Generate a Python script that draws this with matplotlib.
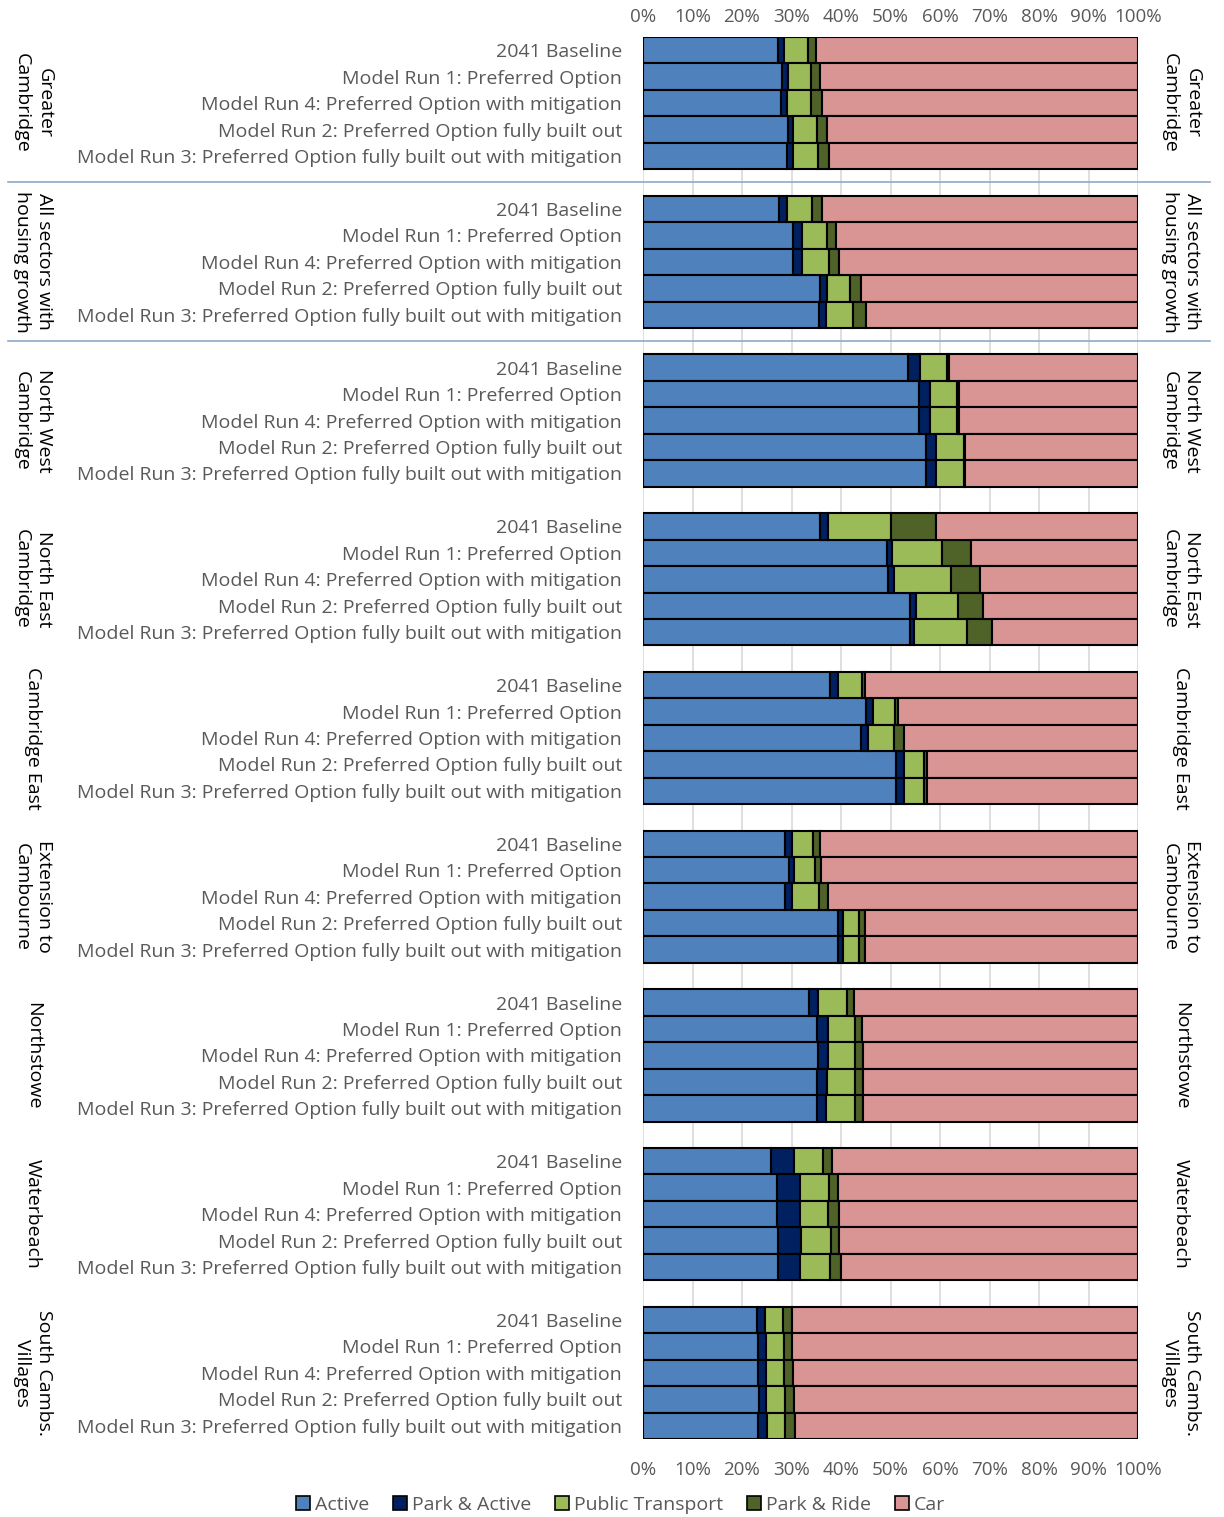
import matplotlib

matplotlib.use("Agg")
import matplotlib.pyplot as plt
import numpy as np
from matplotlib.patches import Patch

plt.rcParams["font.family"] = ["Open Sans", "DejaVu Sans"]

# sectors (top to bottom) and model runs within each sector
sectors = [
    "Greater\nCambridge",
    "All sectors with\nhousing growth",
    "North West\nCambridge",
    "North East\nCambridge",
    "Cambridge East",
    "Extension to\nCambourne",
    "Northstowe",
    "Waterbeach",
    "South Cambs.\nVillages",
]
runs = [
    "2041 Baseline",
    "Model Run 1: Preferred Option",
    "Model Run 4: Preferred Option with mitigation",
    "Model Run 2: Preferred Option fully built out",
    "Model Run 3: Preferred Option fully built out with mitigation",
]
modes = ["Active", "Park & Active", "Public Transport", "Park & Ride", "Car"]

# mode share (%) per sector, one row per model run (order as in `runs`)
# columns: Active, Park & Active, Public Transport, Park & Ride, Car
greater_cambridge = [
    [27.3, 1.2, 4.9, 1.6, 65.0],
    [28.0, 1.2, 4.7, 1.9, 64.2],
    [27.9, 1.1, 4.9, 2.2, 63.9],
    [29.3, 1.1, 4.8, 2.0, 62.8],
    [29.1, 1.2, 5.0, 2.3, 62.4],
]
all_sectors = [
    [27.4, 1.7, 5.0, 2.0, 63.9],
    [30.4, 1.8, 4.9, 1.8, 61.1],
    [30.4, 1.8, 5.3, 2.1, 60.4],
    [35.7, 1.5, 4.7, 2.1, 56.0],
    [35.5, 1.5, 5.5, 2.5, 55.0],
]
north_west = [
    [53.5, 2.4, 5.6, 0.3, 38.2],
    [55.7, 2.2, 5.6, 0.3, 36.2],
    [55.7, 2.2, 5.6, 0.3, 36.2],
    [57.2, 2.0, 5.6, 0.3, 34.9],
    [57.2, 2.0, 5.6, 0.3, 34.9],
]
north_east = [
    [35.8, 1.6, 12.6, 9.1, 40.9],
    [49.2, 1.2, 10.1, 5.7, 33.8],
    [49.5, 1.2, 11.5, 5.8, 32.0],
    [53.9, 1.2, 8.5, 5.1, 31.3],
    [53.9, 0.9, 10.6, 5.1, 29.5],
]
cambridge_east = [
    [37.8, 1.6, 4.8, 0.7, 55.1],
    [45.1, 1.4, 4.5, 0.5, 48.5],
    [44.0, 1.5, 5.3, 2.0, 47.2],
    [51.2, 1.5, 4.1, 0.5, 42.7],
    [51.2, 1.5, 4.1, 0.5, 42.7],
]
cambourne = [
    [28.7, 1.3, 4.3, 1.5, 64.2],
    [29.4, 1.1, 4.2, 1.2, 64.1],
    [28.7, 1.3, 5.6, 1.8, 62.6],
    [39.4, 1.1, 3.2, 1.2, 55.1],
    [39.4, 1.1, 3.2, 1.2, 55.1],
]
northstowe = [
    [33.5, 1.9, 5.9, 1.3, 57.4],
    [35.2, 2.1, 5.5, 1.5, 55.7],
    [35.4, 1.9, 5.5, 1.7, 55.5],
    [35.2, 1.9, 5.7, 1.7, 55.5],
    [35.2, 1.8, 5.8, 1.7, 55.5],
]
waterbeach = [
    [25.9, 4.7, 5.8, 1.8, 61.8],
    [27.1, 4.6, 5.8, 1.8, 60.7],
    [27.1, 4.6, 5.6, 2.3, 60.4],
    [27.3, 4.6, 6.0, 1.7, 60.4],
    [27.3, 4.5, 5.9, 2.3, 60.0],
]
south_cambs = [
    [23.0, 1.6, 3.6, 1.8, 70.0],
    [23.3, 1.5, 3.7, 1.7, 69.8],
    [23.3, 1.5, 3.7, 1.9, 69.6],
    [23.4, 1.5, 3.7, 2.0, 69.4],
    [23.3, 1.7, 3.6, 2.2, 69.2],
]

colors = ["#4F81BD", "#002060", "#9BBB59", "#4F6228", "#D99594"]
TXT = "#595959"

data = np.array([greater_cambridge, all_sectors, north_west, north_east,
                 cambridge_east, cambourne, northstowe, waterbeach, south_cambs])
n_grp, n_run, _ = data.shape
slot = n_run + 1
ypos = np.array([g * slot + i for g in range(n_grp) for i in range(n_run)])
vals = data.reshape(-1, len(modes))

fig = plt.figure(figsize=(12.24, 15.17), dpi=100)
ax = fig.add_axes([643 / 1224, 1 - 1439 / 1517, 495 / 1224, 1402 / 1517])

left = np.zeros(len(ypos))
for k, mode in enumerate(modes):
    ax.barh(ypos, vals[:, k], left=left, height=1.0, color=colors[k],
            edgecolor="black", linewidth=1.5, zorder=3)
    left += vals[:, k]

ticks = np.arange(0, 101, 10)
tick_labels = [f"{v}%" for v in ticks]
ax.set_xlim(0, 100)
ax.set_ylim(ypos[-1] + 0.5, -0.5)
ax.set_xticks(ticks)
ax.set_xticklabels(tick_labels)
ax.xaxis.grid(True, color="#D9D9D9", linewidth=1.2, zorder=0)
ax.set_axisbelow(True)
ax.set_yticks(ypos)
ax.set_yticklabels(runs * n_grp)
ax.tick_params(axis="y", length=0, pad=15, labelsize=14, labelcolor=TXT)
ax.tick_params(axis="x", length=0, labelsize=13.5, labelcolor=TXT, pad=16)
for s in ax.spines.values():
    s.set_visible(False)

top = ax.secondary_xaxis("top")
top.set_xticks(ticks)
top.set_xticklabels(tick_labels)
top.tick_params(length=0, labelsize=13.5, labelcolor=TXT, pad=8)
top.spines["top"].set_visible(False)

# sector names on both sides
trans = ax.get_yaxis_transform()
for g, name in enumerate(sectors):
    yc = g * slot + (n_run - 1) / 2
    for xa in ((33 - 643) / 495, (1181 - 643) / 495):
        ax.text(xa, yc, name, transform=trans, rotation=270, ha="center",
                va="center", fontsize=14, color="black", linespacing=1.35,
                multialignment="center")

# separators under the first two sectors
for g in (0, 1):
    ax.axhline(g * slot + n_run, xmin=(8 - 643) / 495, xmax=(1210 - 643) / 495,
               color="#8EA9C8", linewidth=1.2, clip_on=False, zorder=1)

handles = [Patch(facecolor=c, edgecolor="black", linewidth=1.2) for c in colors]
fig.legend(handles, modes, loc="center", bbox_to_anchor=(0.507, 1 - 1505 / 1517),
           ncol=5, frameon=False, fontsize=14, labelcolor=TXT,
           handlelength=0.75, handleheight=0.75, handletextpad=0.25,
           columnspacing=1.2)

fig.savefig("out.png", dpi=100)
